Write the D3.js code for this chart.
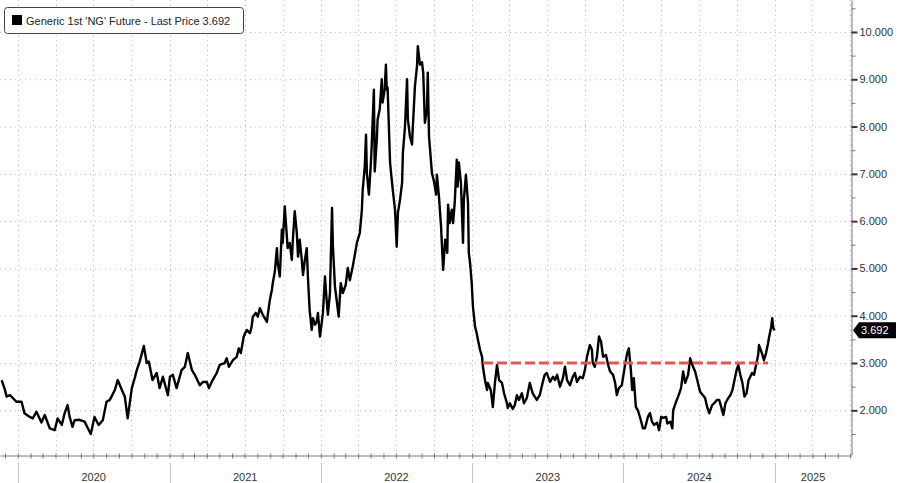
<!DOCTYPE html>
<html>
<head>
<meta charset="utf-8">
<script src="https://cdn.jsdelivr.net/npm/d3@7"></script>
<style>
  body { margin: 0; background: #fff; }
  text { font-family: "Liberation Sans", Arial, sans-serif; }
</style>
</head>
<body>
<div id="chart"></div>
<script>
// NG1 front-month price
const dates = [
  "2019-11-23","2019-12-01","2019-12-05","2019-12-13","2019-12-20","2019-12-29",
  "2020-01-10","2020-01-17","2020-01-30","2020-02-06","2020-02-15","2020-02-27","2020-03-06","2020-03-18","2020-03-30",
  "2020-04-06","2020-04-16","2020-04-23","2020-04-30","2020-05-05","2020-05-12","2020-05-17","2020-05-29","2020-06-10",
  "2020-06-18","2020-06-25","2020-07-04","2020-07-14","2020-07-24","2020-08-02","2020-08-10","2020-08-22","2020-08-29",
  "2020-09-08","2020-09-15","2020-09-22","2020-10-02","2020-10-09","2020-10-14","2020-10-21","2020-10-31","2020-11-07",
  "2020-11-12","2020-11-21","2020-12-01","2020-12-08","2020-12-16","2020-12-28",
  "2021-01-02","2021-01-09","2021-01-18","2021-01-30","2021-02-07","2021-02-14","2021-02-24","2021-03-03","2021-03-15",
  "2021-03-22","2021-04-01","2021-04-06","2021-04-15","2021-04-25","2021-05-02","2021-05-14","2021-05-19","2021-05-24",
  "2021-06-03","2021-06-12","2021-06-17","2021-06-22","2021-06-29","2021-07-06","2021-07-14","2021-07-18","2021-07-21",
  "2021-07-28","2021-08-02","2021-08-07","2021-08-14","2021-08-24","2021-08-26","2021-08-31","2021-09-05","2021-09-07",
  "2021-09-12","2021-09-17","2021-09-19","2021-09-24","2021-09-29","2021-10-01","2021-10-06","2021-10-11","2021-10-13",
  "2021-10-18","2021-10-23","2021-10-26","2021-10-30","2021-11-04","2021-11-07","2021-11-11","2021-11-16","2021-11-19",
  "2021-11-23","2021-11-28","2021-12-01","2021-12-05","2021-12-10","2021-12-13","2021-12-18","2021-12-22","2021-12-25",
  "2021-12-30",
  "2022-01-03","2022-01-06","2022-01-11","2022-01-15","2022-01-18","2022-01-23","2022-01-28","2022-01-30","2022-02-04",
  "2022-02-09","2022-02-13","2022-02-18","2022-02-23","2022-03-02","2022-03-07","2022-03-12","2022-03-19","2022-03-29",
  "2022-04-05","2022-04-10","2022-04-12","2022-04-17","2022-04-20","2022-04-22","2022-04-27","2022-05-02","2022-05-04",
  "2022-05-09","2022-05-11","2022-05-16","2022-05-18","2022-05-23","2022-05-28","2022-05-30","2022-06-04","2022-06-07",
  "2022-06-09","2022-06-11","2022-06-17","2022-06-21","2022-06-24","2022-06-29","2022-07-03","2022-07-06","2022-07-11",
  "2022-07-16","2022-07-18","2022-07-23","2022-07-28","2022-07-30","2022-08-04","2022-08-09","2022-08-11","2022-08-16",
  "2022-08-21","2022-08-23","2022-08-28","2022-09-02","2022-09-05","2022-09-09","2022-09-14","2022-09-16","2022-09-19",
  "2022-09-26","2022-10-01","2022-10-06","2022-10-08","2022-10-13","2022-10-18","2022-10-23","2022-10-28","2022-11-02",
  "2022-11-04","2022-11-08","2022-11-13","2022-11-16","2022-11-20","2022-11-25","2022-11-27","2022-11-30","2022-12-05",
  "2022-12-10","2022-12-12","2022-12-17","2022-12-22","2022-12-24","2022-12-27","2022-12-31",
  "2023-01-03","2023-01-08","2023-01-12","2023-01-15","2023-01-20","2023-01-25","2023-01-27","2023-02-01","2023-02-06",
  "2023-02-08","2023-02-15","2023-02-20","2023-02-25","2023-03-02","2023-03-07","2023-03-14","2023-03-19","2023-03-26",
  "2023-03-28","2023-04-02","2023-04-09","2023-04-14","2023-04-19","2023-04-24","2023-05-01","2023-05-06","2023-05-13",
  "2023-05-20","2023-05-27","2023-06-01","2023-06-06","2023-06-13","2023-06-20","2023-06-25","2023-06-30","2023-07-08",
  "2023-07-15","2023-07-20","2023-07-25","2023-08-01","2023-08-08","2023-08-13","2023-08-18","2023-08-25","2023-09-01",
  "2023-09-06","2023-09-11","2023-09-18","2023-09-25","2023-09-30","2023-10-05","2023-10-12","2023-10-17","2023-10-19",
  "2023-10-24","2023-10-29","2023-11-03","2023-11-08","2023-11-13","2023-11-20","2023-11-25","2023-11-30","2023-12-07",
  "2023-12-12","2023-12-16","2023-12-21","2023-12-28",
  "2024-01-05","2024-01-10","2024-01-14","2024-01-19","2024-01-22","2024-01-26","2024-01-31","2024-02-05","2024-02-12",
  "2024-02-17","2024-02-22","2024-02-27","2024-02-29","2024-03-05","2024-03-10","2024-03-15","2024-03-22","2024-03-27",
  "2024-04-01","2024-04-06","2024-04-13","2024-04-16","2024-04-23","2024-04-28","2024-04-30","2024-05-07","2024-05-12",
  "2024-05-19","2024-05-24","2024-05-29","2024-06-05","2024-06-10","2024-06-17","2024-06-22","2024-06-27","2024-07-04",
  "2024-07-11","2024-07-16","2024-07-21","2024-07-26","2024-08-02","2024-08-07","2024-08-14","2024-08-19","2024-08-24",
  "2024-08-29","2024-09-03","2024-09-10","2024-09-15","2024-09-20","2024-09-25","2024-09-30","2024-10-04","2024-10-09",
  "2024-10-14","2024-10-19","2024-10-24","2024-10-29","2024-11-02","2024-11-06","2024-11-11","2024-11-16","2024-11-21",
  "2024-11-23","2024-11-30","2024-12-05","2024-12-10","2024-12-15","2024-12-17","2024-12-22","2024-12-25","2024-12-27",
  "2024-12-30"
];
const prices = [
  2.64,2.43,2.29,2.32,2.26,2.18,
  2.18,1.94,1.86,1.83,1.97,1.74,1.90,1.62,1.58,
  1.83,1.69,1.94,2.11,1.86,1.65,1.79,1.80,1.76,
  1.62,1.50,1.86,1.69,1.79,2.18,2.22,2.43,2.64,
  2.43,2.29,1.83,2.47,2.68,2.85,3.03,3.36,3.00,
  3.03,2.64,2.79,2.47,2.71,2.32,
  2.71,2.75,2.47,2.85,2.92,3.21,2.85,2.75,2.53,
  2.60,2.60,2.47,2.64,2.79,2.96,3.00,3.10,2.92,
  3.06,3.13,3.31,3.21,3.56,3.70,3.63,3.77,3.98,
  4.06,3.98,4.16,4.02,3.87,4.02,4.33,4.55,4.69,
  4.93,5.43,5.12,4.83,5.82,5.54,6.31,5.68,5.43,
  5.54,5.18,5.68,6.21,5.75,5.25,5.61,5.18,4.86,
  5.15,5.43,4.79,4.12,3.70,3.95,3.81,3.87,4.06,
  3.56,
  3.84,4.06,4.83,4.33,4.02,4.48,6.28,5.50,4.62,
  4.27,3.98,4.69,4.48,4.65,5.01,4.75,5.04,5.54,
  5.75,6.24,6.66,7.16,7.83,7.02,6.56,7.27,7.66,
  8.78,7.05,7.72,8.15,8.36,9.00,8.51,8.78,9.31,
  8.78,8.83,7.24,6.88,6.63,6.24,5.46,6.18,6.45,
  6.81,7.45,8.00,9.00,8.15,7.79,7.62,8.00,8.85,
  9.28,9.70,9.31,9.36,9.14,8.08,8.36,9.14,7.79,
  7.02,6.84,6.56,6.98,6.52,5.89,4.97,5.61,5.33,
  6.35,5.96,6.24,5.96,6.39,7.30,6.73,7.24,6.81,
  5.54,6.45,6.98,6.39,5.33,5.12,4.69,
  4.19,3.77,3.63,3.49,3.28,3.13,2.92,2.64,2.43,
  2.58,2.43,2.07,2.58,2.96,2.64,2.58,2.36,2.15,
  2.05,2.15,2.03,2.11,2.32,2.22,2.36,2.15,2.26,
  2.58,2.36,2.29,2.22,2.32,2.58,2.75,2.79,2.60,
  2.71,2.64,2.75,2.50,2.68,2.92,2.64,2.53,2.71,
  2.79,2.60,2.71,2.68,2.85,3.13,3.38,3.28,3.00,
  2.92,3.13,3.56,3.45,3.13,3.17,2.96,2.82,2.75,
  2.58,2.32,2.47,2.53,
  2.96,3.21,3.31,2.85,2.43,2.68,2.07,2.00,1.79,
  1.62,1.62,1.79,1.86,1.94,1.76,1.69,1.74,1.58,
  1.86,1.84,1.86,1.72,1.76,1.62,2.00,2.18,2.29,
  2.47,2.82,2.58,2.75,3.10,2.92,2.82,2.64,2.39,
  2.32,2.26,2.07,1.94,2.11,2.15,2.22,2.22,2.07,
  1.90,2.15,2.26,2.32,2.43,2.64,2.85,2.96,2.75,
  2.58,2.29,2.36,2.64,2.71,2.79,2.75,2.96,3.17,
  3.38,3.21,3.06,3.21,3.42,3.53,3.74,3.95,3.77,
  3.69
];

const yTicks = [2, 3, 4, 5, 6, 7, 8, 9, 10];
const years = [2020, 2021, 2022, 2023, 2024, 2025];
const lastPrice = 3.692;
const legendText = "Generic 1st 'NG' Future - Last Price " + lastPrice;

// horizontal resistance level
const levelValue = 3.0;
const levelFrom = "2023-01-27";
const levelTo = "2024-12-15";

const width = 900, height = 483;
const plotRight = 851, plotBottom = 455;

const parse = d3.timeParse("%Y-%m-%d");
const data = dates.map((d, i) => ({date: parse(d), value: prices[i]}));

const svg = d3.select("#chart").append("svg")
    .attr("width", width)
    .attr("height", height);

const x = d3.scaleTime()
    .domain([parse("2019-11-19"), parse("2025-07-03")])
    .range([0, plotRight]);

const y = d3.scaleLinear()
    .domain([1.055, 10.676])
    .range([plotBottom, 0]);

// dotted grid
const grid = svg.append("g")
    .attr("stroke", "#b8b8b8")
    .attr("stroke-dasharray", "1,4");

grid.selectAll(".hgrid")
    .data(yTicks)
    .enter().append("line")
    .attr("x1", 0).attr("x2", plotRight)
    .attr("y1", d => y(d) + 0.5).attr("y2", d => y(d) + 0.5);

grid.selectAll(".vgrid")
    .data(d3.timeMonth.every(3).range(parse("2020-01-01"), x.domain()[1]))
    .enter().append("line")
    .attr("x1", d => Math.round(x(d)) + 0.5).attr("x2", d => Math.round(x(d)) + 0.5)
    .attr("y1", 0).attr("y2", plotBottom);

// right axis, major + half-unit minor ticks
const yAxis = svg.append("g")
    .attr("transform", "translate(" + (plotRight + 0.5) + ",0)")
    .call(d3.axisRight(y).tickValues(yTicks).tickFormat(d3.format(".3f"))
        .tickSize(6).tickPadding(2).tickSizeOuter(0));
yAxis.select(".domain").attr("stroke", "#777");
yAxis.selectAll(".tick line").attr("stroke", "#333").attr("stroke-width", 2);
yAxis.selectAll(".tick text").attr("fill", "#333").attr("font-size", 11)
    .attr("font-family", "Liberation Sans, Arial, sans-serif");

const minor = svg.append("g")
    .attr("transform", "translate(" + (plotRight + 0.5) + ",0)")
    .call(d3.axisRight(y).tickValues(d3.range(1.5, 10.6, 1)).tickFormat("")
        .tickSize(4).tickSizeOuter(0));
minor.select(".domain").remove();
minor.selectAll(".tick line").attr("stroke", "#777");

// bottom axis with monthly ticks
const xAxis = svg.append("g")
    .attr("transform", "translate(0," + (plotBottom + 0.5) + ")")
    .call(d3.axisBottom(x).ticks(d3.timeMonth.every(1)).tickFormat("")
        .tickSize(3).tickSizeOuter(0));
xAxis.select(".domain").attr("stroke", "#777");
xAxis.selectAll(".tick line").attr("stroke", "#777").attr("y1", -2);

// year separators and labels
const yearStart = yr => new Date(yr, 0, 1);
svg.selectAll(".ysep")
    .data(years)
    .enter().append("line")
    .attr("x1", d => Math.round(x(yearStart(d))) + 0.5)
    .attr("x2", d => Math.round(x(yearStart(d))) + 0.5)
    .attr("y1", 463).attr("y2", height)
    .attr("stroke", "#c8c8c8");

svg.selectAll(".ylab")
    .data(years)
    .enter().append("text")
    .attr("x", d => (x(yearStart(d)) + Math.min(x(yearStart(d + 1)), plotRight)) / 2)
    .attr("y", 481)
    .attr("text-anchor", "middle")
    .attr("font-size", 11)
    .attr("fill", "#333")
    .text(d => d);

// price line
const line = d3.line()
    .x(d => x(d.date))
    .y(d => y(d.value));

svg.append("path")
    .datum(data)
    .attr("fill", "none")
    .attr("stroke", "#000")
    .attr("stroke-width", 2.4)
    .attr("stroke-linejoin", "round")
    .attr("d", line);

// red dashed level
svg.append("line")
    .attr("x1", x(parse(levelFrom))).attr("x2", x(parse(levelTo)))
    .attr("y1", y(levelValue)).attr("y2", y(levelValue))
    .attr("stroke", "#e5574c")
    .attr("stroke-width", 3)
    .attr("stroke-dasharray", "10,4");

// last price tag
const ty = y(lastPrice);
svg.append("path")
    .attr("d", "M" + (plotRight + 2) + "," + ty + "L" + (plotRight + 8) + "," + (ty - 8) +
        "H" + (width - 4) + "V" + (ty + 8) + "H" + (plotRight + 8) + "Z")
    .attr("fill", "#000");
svg.append("text")
    .attr("x", plotRight + 10)
    .attr("y", ty + 4)
    .attr("font-size", 11)
    .attr("fill", "#fff")
    .text(d3.format(".3f")(lastPrice));

// legend
const legend = svg.append("g");
legend.append("rect")
    .attr("x", 4.5).attr("y", 7.5)
    .attr("width", 239).attr("height", 26)
    .attr("rx", 3)
    .attr("fill", "#fff")
    .attr("stroke", "#444");
legend.append("rect")
    .attr("x", 12).attr("y", 15)
    .attr("width", 10).attr("height", 10)
    .attr("fill", "#000");
legend.append("text")
    .attr("x", 26).attr("y", 24.5)
    .attr("font-size", 11)
    .attr("fill", "#222")
    .text(legendText);
</script>
</body>
</html>
